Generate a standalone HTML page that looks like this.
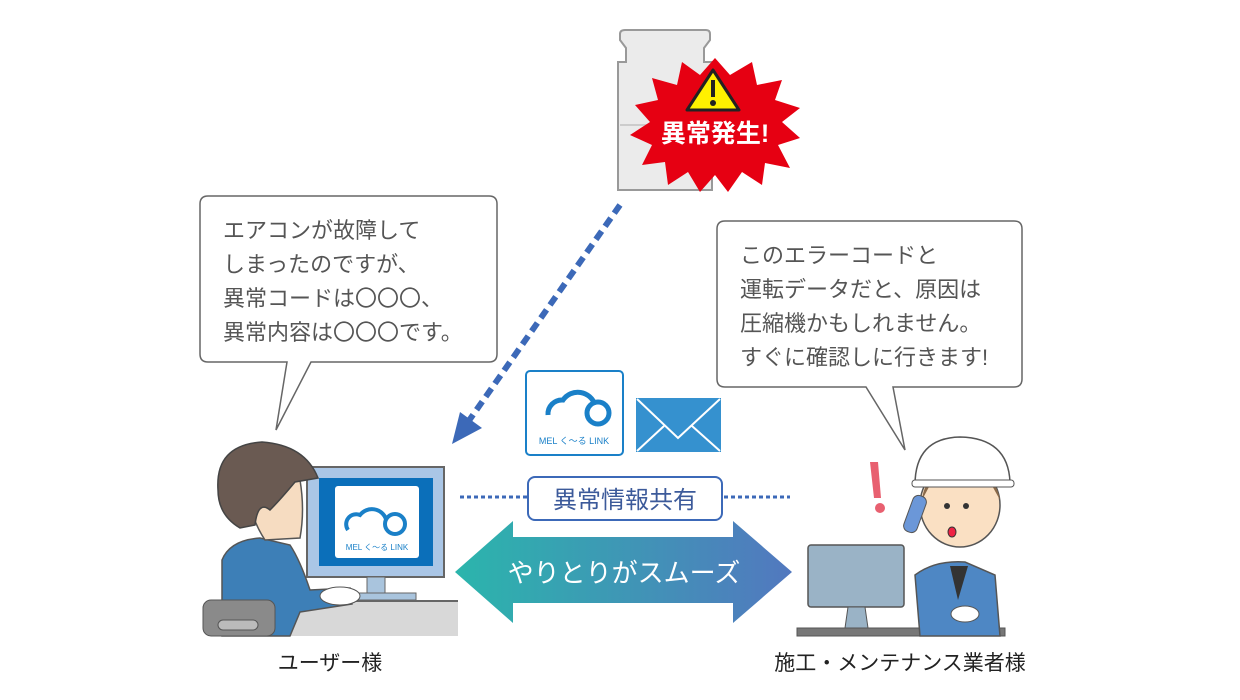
<!DOCTYPE html>
<html><head><meta charset="utf-8"><style>
html,body{margin:0;padding:0;background:#fff;}
svg{display:block;font-family:"Liberation Sans","Noto Sans CJK JP",sans-serif;}
</style></head><body>
<svg width="1240" height="700" viewBox="0 0 1240 700" xmlns="http://www.w3.org/2000/svg">
<defs>
<linearGradient id="g" x1="0" x2="1"><stop offset="0" stop-color="#2bb5ac"/><stop offset="1" stop-color="#5278bf"/></linearGradient>
</defs>
<!-- fridge -->
<path d="M625 30 H706 Q710 30 710 34 V40 L704 48 V62 H712 V190 H618 V62 H626 V48 L620 40 V34 Q620 30 625 30 Z" fill="#ebebeb" stroke="#999" stroke-width="2"/>
<line x1="620" y1="125" x2="710" y2="125" stroke="#ccc" stroke-width="2"/>
<!-- starburst -->
<polygon fill="#e60012" points="715,58 730,75 752,62 757,85 782,80 775,100 800,108 782,122 800,138 778,145 790,168 765,163 762,185 742,172 728,192 715,175 700,192 688,172 668,185 665,162 642,165 652,145 630,135 650,122 635,105 658,100 652,78 677,85 682,62 700,75"/>
<polygon points="713,70 739,110 687,110" fill="#fff100" stroke="#222" stroke-width="3" stroke-linejoin="round"/>
<rect x="711" y="80" width="4" height="17" fill="#222"/><circle cx="713" cy="103" r="3" fill="#222"/>
<text x="715" y="142" font-size="25" font-weight="bold" fill="#fff" text-anchor="middle">異常発生!</text>
<!-- dashed arrow -->
<line x1="620" y1="205" x2="468" y2="422" stroke="#3c69b8" stroke-width="6" stroke-dasharray="10,6"/>
<polygon points="452,444 460,412 482,428" fill="#3c69b8"/>
<!-- left bubble -->
<path d="M208 196 H489 Q497 196 497 204 V354 Q497 362 489 362 H311 L276 430 L287 362 H208 Q200 362 200 354 V204 Q200 196 208 196 Z" fill="#fff" stroke="#666" stroke-width="1.5"/>
<g font-size="22" fill="#555">
<text x="223" y="238">エアコンが故障して</text>
<text x="223" y="272">しまったのですが、</text>
<text x="223" y="306">異常コードは〇〇〇、</text>
<text x="223" y="340">異常内容は〇〇〇です。</text>
</g>
<!-- right bubble -->
<path d="M725 221 H1014 Q1022 221 1022 229 V379 Q1022 387 1014 387 H893 L905 450 L866 387 H725 Q717 387 717 379 V229 Q717 221 725 221 Z" fill="#fff" stroke="#666" stroke-width="1.5"/>
<g font-size="22" fill="#555">
<text x="740" y="263">このエラーコードと</text>
<text x="740" y="297">運転データだと、原因は</text>
<text x="740" y="331">圧縮機かもしれません。</text>
<text x="740" y="365">すぐに確認しに行きます!</text>
</g>
<!-- logo box -->
<rect x="526" y="371" width="97" height="84" rx="4" fill="#fff" stroke="#1a80c8" stroke-width="2"/>
<g fill="none" stroke="#1a80c8" stroke-width="5">
<path d="M548 415 A14 14 0 0 1 563 400 A18 18 0 0 1 595 405"/>
<circle cx="598" cy="413" r="11"/>
</g>
<text x="574" y="444" font-size="9" fill="#1a80c8" text-anchor="middle">MEL く〜る LINK</text>
<!-- envelope -->
<rect x="636" y="398" width="85" height="54" fill="#3591cf"/>
<polyline points="637,399 678,438 720,399" fill="none" stroke="#fff" stroke-width="2"/>
<line x1="637" y1="451" x2="664" y2="426" stroke="#fff" stroke-width="2"/>
<line x1="720" y1="451" x2="692" y2="426" stroke="#fff" stroke-width="2"/>
<!-- dotted line + label -->
<line x1="460" y1="497" x2="527" y2="497" stroke="#3c69b8" stroke-width="3" stroke-dasharray="4,3"/>
<line x1="724" y1="497" x2="790" y2="497" stroke="#3c69b8" stroke-width="3" stroke-dasharray="4,3"/>
<rect x="528" y="477" width="194" height="43" rx="7" fill="#fff" stroke="#3c69b8" stroke-width="2"/>
<text x="625" y="508" font-size="24" fill="#3c5a9a" text-anchor="middle">異常情報共有</text>
<!-- double arrow -->
<polygon points="455,572 513,521 513,537 733,537 733,521 792,572 733,623 733,603 513,603 513,623" fill="url(#g)"/>
<text x="624" y="582" font-size="26" fill="#fff" text-anchor="middle">やりとりがスムーズ</text>
<!-- left person scene -->
<rect x="270" y="600" width="188" height="36" fill="#d8d8d8"/>
<line x1="270" y1="601" x2="458" y2="601" stroke="#666" stroke-width="2"/>
<rect x="307" y="467" width="137" height="110" fill="#aac6e6" stroke="#666" stroke-width="2"/>
<rect x="319" y="478" width="114" height="88" fill="#0b6fba"/>
<rect x="335" y="486" width="84" height="72" rx="3" fill="#fff"/>
<g fill="none" stroke="#1a80c8" stroke-width="4">
<path d="M348 530 A10 10 0 0 1 360 515 A15 15 0 0 1 386 519"/>
<circle cx="395" cy="524" r="10"/>
</g>
<text x="377" y="550" font-size="8" fill="#1a80c8" text-anchor="middle">MEL く〜る LINK</text>
<rect x="367" y="577" width="18" height="17" fill="#a9c4dd" stroke="#666"/>
<rect x="350" y="593" width="66" height="7" fill="#a9c4dd" stroke="#666"/>
<!-- user body -->
<path d="M222 636 L222 560 Q230 540 260 538 L290 545 Q300 560 310 590 L350 588 L352 604 L300 612 L290 636 Z" fill="#3d7fb7" stroke="#555" stroke-width="1.5"/>
<ellipse cx="340" cy="596" rx="20" ry="9" fill="#fff" stroke="#555"/>
<path d="M248 470 Q245 510 265 540 L300 538 Q305 510 300 480 Z" fill="#f6dcc1" stroke="#555" stroke-width="1.5"/>
<path d="M218 490 Q215 445 262 442 Q305 445 318 478 L295 482 Q280 500 270 510 Q258 500 255 525 L240 528 Q218 515 218 490 Z" fill="#6a5a52" stroke="#444" stroke-width="1.5"/>
<rect x="203" y="600" width="72" height="36" rx="8" fill="#8a8a8a" stroke="#555"/>
<rect x="218" y="620" width="40" height="10" rx="5" fill="#bbb" stroke="#555"/>
<!-- right scene -->
<rect x="797" y="628" width="208" height="8" fill="#777" stroke="#555"/>
<rect x="808" y="545" width="96" height="62" rx="3" fill="#9ab3c6" stroke="#555" stroke-width="1.5"/>
<path d="M848 607 L845 628 L868 628 L865 607 Z" fill="#9ab3c6" stroke="#555"/>
<path d="M920 636 L915 575 Q935 560 965 562 L995 575 L1000 636 Z" fill="#4e87c4" stroke="#555" stroke-width="1.5"/>
<path d="M950 566 L958 600 L968 566 Z" fill="#333"/>
<ellipse cx="960" cy="505" rx="40" ry="42" fill="#fae0c3" stroke="#555" stroke-width="1.5"/>
<path d="M922 500 Q925 470 960 470 Q995 470 1000 500 L990 482 Q960 485 930 485 Z" fill="#8a6a4a"/>
<path d="M915 485 Q915 438 960 437 Q1008 438 1010 482 Z" fill="#fff" stroke="#555" stroke-width="1.5"/>
<rect x="912" y="480" width="102" height="7" rx="3" fill="#fff" stroke="#555"/>
<rect x="908" y="495" width="14" height="38" rx="6" fill="#6b97d8" stroke="#555" transform="rotate(20 915 514)"/>
<circle cx="947" cy="506" r="3" fill="#333"/><circle cx="966" cy="506" r="3" fill="#333"/>
<ellipse cx="952" cy="532" rx="4" ry="5" fill="#e24" stroke="#333"/>
<ellipse cx="965" cy="614" rx="14" ry="8" fill="#fff" stroke="#555"/>
<path d="M870 462 L878 462 L881 498 L874 498 Z" fill="#e86070"/>
<circle cx="880" cy="508" r="5" fill="#e86070"/>
<!-- bottom labels -->
<text x="330" y="670" font-size="21" fill="#222" text-anchor="middle">ユーザー様</text>
<text x="900" y="670" font-size="21" fill="#222" text-anchor="middle">施工・メンテナンス業者様</text>
</svg>
</body></html>
